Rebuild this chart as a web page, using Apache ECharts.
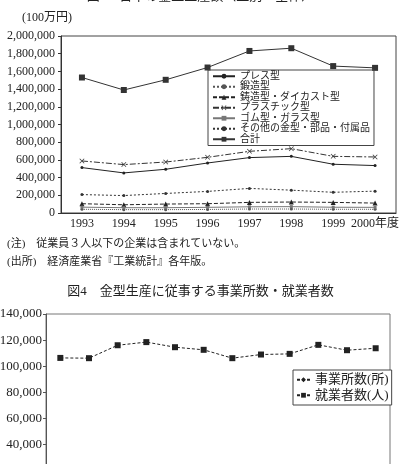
<!DOCTYPE html>
<html>
<head>
<meta charset="UTF-8">
<title>金型生産</title>
<script src="https://cdn.jsdelivr.net/npm/echarts/dist/echarts.min.js"></script>
<style>
  html, body { margin: 0; padding: 0; background: #fff; }
  #main { width: 401px; height: 464px; }
</style>
</head>
<body>
<div id="main"></div>
<script type="text/javascript">
// 図3 金型生産額（100万円）
var years1 = ['1993', '1994', '1995', '1996', '1997', '1998', '1999', '2000年度'];
var press = [513000, 453000, 494000, 565000, 626000, 640000, 551000, 536000];
var forging = [42000, 38000, 38000, 40000, 45000, 45000, 42000, 42000];
var casting = [105000, 93000, 101000, 105000, 120000, 124000, 120000, 112000];
var plastic = [588000, 547000, 576000, 629000, 697000, 727000, 640000, 633000];
var rubberGlass = [66000, 60000, 60000, 64000, 70000, 72000, 65000, 64000];
var others = [208000, 197000, 221000, 244000, 278000, 258000, 234000, 247000];
var total = [1531000, 1390000, 1505000, 1644000, 1831000, 1862000, 1660000, 1640000];

// 図4 事業所数・就業者数（下端が切れていて年ラベルと事業所数は読めない）
var years2 = ['1989', '1990', '1991', '1992', '1993', '1994', '1995', '1996', '1997', '1998', '1999', '2000'];
var employees = [106400, 106200, 116100, 118500, 114600, 112600, 106200, 109000, 109500, 116400, 112300, 113800];
var establishments = [];

var FONT = '"Liberation Serif", "Noto Sans CJK JP", serif';
var INK = '#222';

function comma(v) { return v.toLocaleString('en-US'); }

var myChart = echarts.init(document.getElementById('main'));

function line(name, data, color, type, symbol, size, xi) {
    return {
        name: name,
        type: 'line',
        xAxisIndex: xi,
        yAxisIndex: xi,
        data: data,
        symbol: symbol,
        symbolSize: size,
        showSymbol: true,
        lineStyle: { color: color, width: 1, type: type },
        itemStyle: { color: color },
        emphasis: { disabled: true }
    };
}

var xMark = 'path://M0,1L1,0L5,4L9,0L10,1L6,5L10,9L9,10L5,6L1,10L0,9L4,5Z';

myChart.setOption({
    animation: false,
    textStyle: { fontFamily: FONT, color: INK },
    graphic: [
        { type: 'text', left: 'center', top: -10, style: { text: '図3　日本の金型生産額（型別・全体）', font: '13px ' + FONT, fill: INK } },
        { type: 'text', left: 22, top: 12, style: { text: '(100万円)', font: '12px ' + FONT, fill: INK } },
        { type: 'text', left: 7, top: 239, style: { text: '(注)　従業員３人以下の企業は含まれていない。', font: '11px ' + FONT, fill: INK } },
        { type: 'text', left: 7, top: 257, style: { text: '(出所)　経済産業省『工業統計』各年版。', font: '11px ' + FONT, fill: INK } },
        { type: 'text', left: 'center', top: 285, style: { text: '図4　金型生産に従事する事業所数・就業者数', font: '13px ' + FONT, fill: INK } }
    ],
    grid: [
        { left: 61, top: 36, width: 335, height: 177, show: true, borderColor: '#444', borderWidth: 1, outerBoundsMode: 'none' },
        { left: 46, top: 314, width: 344, height: 183, show: true, borderColor: '#777', borderWidth: 1, outerBoundsMode: 'none' }
    ],
    legend: [
        {
            orient: 'vertical', left: 208, top: 70,
            padding: [1, 4], itemGap: 0, itemWidth: 22, itemHeight: 6,
            borderColor: '#444', borderWidth: 1,
            textStyle: { fontFamily: FONT, fontSize: 10, lineHeight: 10.5, color: INK },
            data: ['プレス型', '鍛造型', '鋳造型・ダイカスト型', 'プラスチック型', 'ゴム型・ガラス型', 'その他の金型・部品・付属品', '合計']
        },
        {
            orient: 'vertical', left: 293, top: 370,
            padding: [2, 3], itemGap: 0, itemWidth: 13, itemHeight: 6,
            backgroundColor: '#fff', borderColor: '#444', borderWidth: 1,
            textStyle: { fontFamily: FONT, fontSize: 13, lineHeight: 15.5, color: INK },
            data: ['事業所数(所)', '就業者数(人)']
        }
    ],
    xAxis: [
        {
            gridIndex: 0, type: 'category', data: years1, boundaryGap: true,
            axisLine: { lineStyle: { color: '#333' } },
            axisTick: { inside: true, length: 3, lineStyle: { color: '#555' } },
            axisLabel: { fontFamily: FONT, fontSize: 12, color: INK, margin: 5, interval: 0 }
        },
        {
            gridIndex: 1, type: 'category', data: years2, boundaryGap: true,
            axisLine: { lineStyle: { color: '#333' } },
            axisTick: { show: false },
            axisLabel: { fontFamily: FONT, fontSize: 12, color: INK }
        }
    ],
    yAxis: [
        {
            gridIndex: 0, type: 'value', min: 0, max: 2000000, interval: 200000,
            splitLine: { show: false },
            axisLine: { show: true, lineStyle: { color: '#333' } },
            axisTick: { show: true, length: 3, lineStyle: { color: '#333' } },
            axisLabel: { fontFamily: FONT, fontSize: 12, color: INK, margin: 6, formatter: comma }
        },
        {
            gridIndex: 1, type: 'value', min: 0, max: 140000, interval: 20000,
            splitLine: { show: false },
            axisLine: { show: true, lineStyle: { color: '#555' } },
            axisTick: { show: true, length: 3, lineStyle: { color: '#555' } },
            axisLabel: { fontFamily: FONT, fontSize: 13, color: INK, margin: 4, formatter: comma }
        }
    ],
    series: [
        line('プレス型', press, '#222', 'solid', 'circle', 3, 0),
        line('鍛造型', forging, '#555', 'dotted', 'circle', 3, 0),
        line('鋳造型・ダイカスト型', casting, '#222', [4, 2], 'triangle', 5, 0),
        line('プラスチック型', plastic, '#333', [6, 2, 2, 2], xMark, 5, 0),
        line('ゴム型・ガラス型', rubberGlass, '#777', 'solid', 'rect', 3, 0),
        line('その他の金型・部品・付属品', others, '#333', [2, 2], 'circle', 3, 0),
        line('合計', total, '#333', 'solid', 'rect', 6, 0),
        line('事業所数(所)', establishments, '#222', [3, 2], 'diamond', 6, 1),
        line('就業者数(人)', employees, '#222', [3, 2], 'rect', 6, 1)
    ]
});
</script>
</body>
</html>
